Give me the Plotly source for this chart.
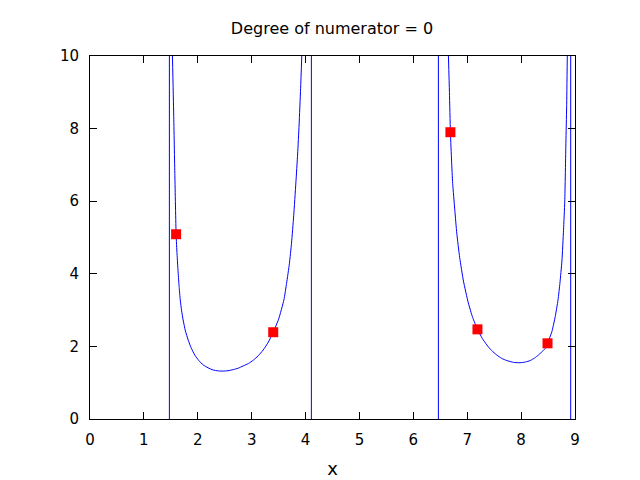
import plotly.graph_objects as go

branch1_x = [1.530, 1.553, 1.575, 1.598, 1.615, 1.635, 1.655, 1.675, 1.70, 1.728, 1.77, 1.821,
             1.88, 1.945, 2.02, 2.10, 2.19, 2.285, 2.38, 2.47, 2.56, 2.657, 2.75, 2.84, 2.94,
             3.03, 3.12, 3.214, 3.31, 3.40, 3.50, 3.598, 3.648, 3.70, 3.74, 3.78, 3.82, 3.853,
             3.88, 3.908, 3.93]
branch1_y = [10.0, 8.4, 6.7, 5.09, 4.55, 4.05, 3.62, 3.28, 2.98, 2.73, 2.43, 2.18,
             1.95, 1.76, 1.61, 1.49, 1.41, 1.35, 1.325, 1.32, 1.33, 1.36, 1.40, 1.46, 1.53,
             1.62, 1.74, 1.90, 2.12, 2.39, 2.75, 3.28, 3.74, 4.28, 4.85, 5.6, 6.5, 7.3,
             8.1, 9.1, 10.0]

branch2_x = [6.651, 6.67, 6.688, 6.71, 6.73, 6.77, 6.806, 6.86, 6.93, 7.02, 7.10, 7.19, 7.28,
             7.364, 7.45, 7.55, 7.64, 7.735, 7.86, 7.98, 8.08, 8.17, 8.25, 8.32, 8.40, 8.45,
             8.49, 8.57, 8.633, 8.685, 8.72, 8.757, 8.787, 8.81, 8.831, 8.845, 8.857]
branch2_y = [10.0, 9.0, 7.90, 7.1, 6.49, 5.75, 5.12, 4.45, 3.80, 3.20, 2.80, 2.47, 2.22,
             2.04, 1.89, 1.76, 1.67, 1.61, 1.56, 1.55, 1.57, 1.61, 1.68, 1.76, 1.87, 1.95,
             2.085, 2.40, 2.82, 3.28, 3.74, 4.35, 5.2, 6.0, 7.6, 8.6, 10.0]

pole_x = [1.473, 4.108, 6.465, 8.92]

points_x = [1.598, 3.40, 6.688, 7.19, 8.49]
points_y = [5.09, 2.39, 7.90, 2.47, 2.085]

BLUE = "#0000ff"


def main() -> None:
    fig = go.Figure()
    for bx, by in [(branch1_x, branch1_y), (branch2_x, branch2_y)]:
        fig.add_trace(go.Scatter(x=bx, y=by, mode="lines",
                                 line={"color": BLUE, "width": 1, "shape": "spline", "smoothing": 0.5},
                                 showlegend=False, hoverinfo="skip"))
    # vertical jumps across the poles
    vx, vy = [], []
    for p in pole_x:
        vx += [p, p, None]
        vy += [-1, 11, None]
    fig.add_trace(go.Scatter(x=vx, y=vy, mode="lines", line={"color": BLUE, "width": 1}, showlegend=False))
    fig.add_trace(go.Scatter(x=points_x, y=points_y, mode="markers",
                             marker={"symbol": "square", "size": 10, "color": "#ff0000", "line": {"width": 0}},
                             showlegend=False))

    axis = {
        "showline": True,
        "linecolor": "black",
        "linewidth": 1,
        "mirror": "allticks",
        "ticks": "inside",
        "ticklen": 7,
        "tickcolor": "black",
        "showgrid": False,
        "zeroline": False,
        "ticklabelstandoff": 7,
        "tickfont": {"size": 15, "color": "black"},
    }
    fig.update_layout(
        width=640,
        height=480,
        plot_bgcolor="white",
        paper_bgcolor="white",
        font={"family": "DejaVu Sans", "size": 15, "color": "black"},
        title={"text": "Degree of numerator = 0", "x": 324 / 640, "xanchor": "center",
               "y": 1 - 20 / 480, "yanchor": "middle", "font": {"size": 16}},
        xaxis={**axis, "range": [0, 9], "dtick": 1, "tick0": 0,
               "title": {"text": "x", "standoff": 14}},
        yaxis={**axis, "range": [0, 10], "dtick": 2, "tick0": 0},
        # page body adds 8px on the top and left
        margin={"l": 82, "r": 73, "t": 48, "b": 69},
    )
    fig.write_html("out.html")


if __name__ == "__main__":
    main()
